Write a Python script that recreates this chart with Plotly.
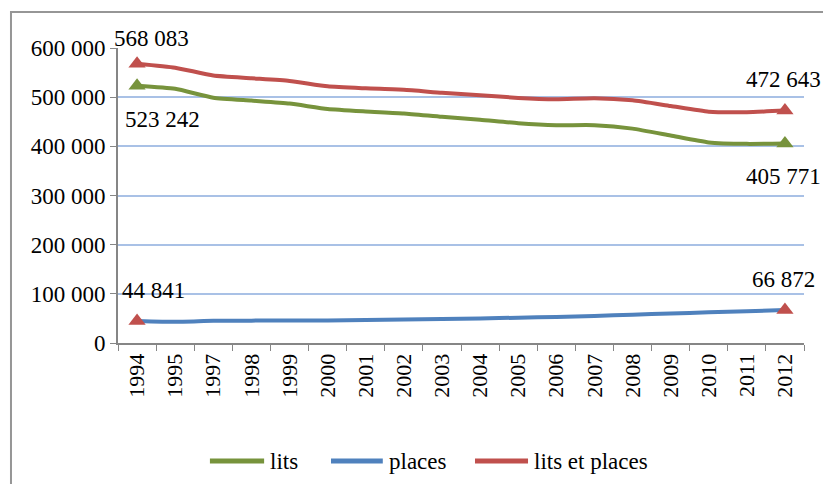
import plotly.graph_objects as go

annees = ["1994", "1995", "1997", "1998", "1999", "2000", "2001", "2002", "2003",
          "2004", "2005", "2006", "2007", "2008", "2009", "2010", "2011", "2012"]

lits = [523242, 517000, 499000, 493000, 487000, 476000, 471000, 467000, 460000,
        454000, 447000, 443000, 443000, 436000, 422000, 408000, 405000, 405771]
places = [44841, 43000, 45000, 45500, 46000, 46000, 47000, 48000, 49000,
          50000, 51500, 53000, 55000, 57500, 60000, 62500, 64500, 66872]
lits_places = [568083, 560000, 544000, 538500, 533000, 522000, 518000, 515000, 509000,
               504000, 498500, 496000, 498000, 493500, 482000, 470500, 469500, 472643]

vert = "#77933C"
bleu = "#4F81BD"
rouge = "#C0504D"
police = "Liberation Serif"

fig = go.Figure()

series = [("lits", lits, vert, vert),
          ("places", places, bleu, rouge),
          ("lits et places", lits_places, rouge, rouge)]

for nom, vals, couleur, c_marq in series:
    fig.add_trace(go.Scatter(x=annees, y=vals, mode="lines", name=nom, showlegend=False,
                             line=dict(color=couleur, width=4, shape="spline", smoothing=0.5)))
    # triangles au premier et dernier point
    fig.add_trace(go.Scatter(x=[annees[0], annees[-1]], y=[vals[0], vals[-1]], mode="markers",
                             marker=dict(symbol="triangle-up", size=15, color=c_marq),
                             showlegend=False, hoverinfo="skip"))

# étiquettes des valeurs extrêmes (x = indice de catégorie)
n = len(annees) - 1
etiquettes = [
    (0, lits_places[0], 14, 25),
    (0, lits[0], 25, -34),
    (0, places[0], 16, 30),
    (n, lits_places[-1], -1, 31),
    (n, lits[-1], -1, -33),
    (n, places[-1], -1, 31),
]
for x, y, dx, dy in etiquettes:
    fig.add_annotation(x=x, y=y, text=f"{y:,}".replace(",", " "), showarrow=False,
                       xshift=dx, yshift=dy, font=dict(family=police, size=23, color="black"))

# légende dessinée à la main (traits plus longs que ceux de plotly)
leg_y = -0.40
legende = [("lits", vert, 0.134, 0.213), ("places", bleu, 0.3105, 0.386),
           ("lits et places", rouge, 0.5204, 0.5977)]
for nom, couleur, xa, xb in legende:
    fig.add_shape(type="line", xref="paper", yref="paper", x0=xa, x1=xb, y0=leg_y, y1=leg_y,
                  line=dict(color=couleur, width=5))
    fig.add_annotation(xref="paper", yref="paper", x=xb + 0.006, y=leg_y, text=nom,
                       showarrow=False, xanchor="left", yanchor="middle",
                       font=dict(family=police, size=23, color="black"))

# cadre du graphique (bords droit et bas hors de l'image)
fig.add_shape(type="rect", xref="paper", yref="paper", x0=-0.156, x1=1.08, y0=-0.65, y1=1.122,
              line=dict(color="#969696", width=2), layer="below")

fig.update_layout(
    width=815, height=476,
    margin=dict(l=110, r=19, t=40, b=141),
    plot_bgcolor="white", paper_bgcolor="white",
    font=dict(family=police, size=22, color="black"),
    showlegend=False,
    xaxis=dict(type="category", range=[-0.5, n + 0.5], tickangle=-90, showline=True,
               linecolor="#868686", linewidth=2,
               ticks="outside", tickson="boundaries", ticklen=6, tickcolor="#868686",
               showgrid=False, tickfont=dict(family=police, size=22)),
    yaxis=dict(range=[0, 600000], tickvals=[0, 100000, 200000, 300000, 400000, 500000, 600000],
               ticktext=["0", "100 000", "200 000", "300 000", "400 000", "500 000", "600 000"],
               showline=True, linecolor="#868686", linewidth=2, ticks="outside", ticklen=6,
               tickcolor="#868686", gridcolor="#A9C1E6", gridwidth=1.5, zeroline=False,
               tickfont=dict(family=police, size=23)),
)

fig.write_html("out.html")
